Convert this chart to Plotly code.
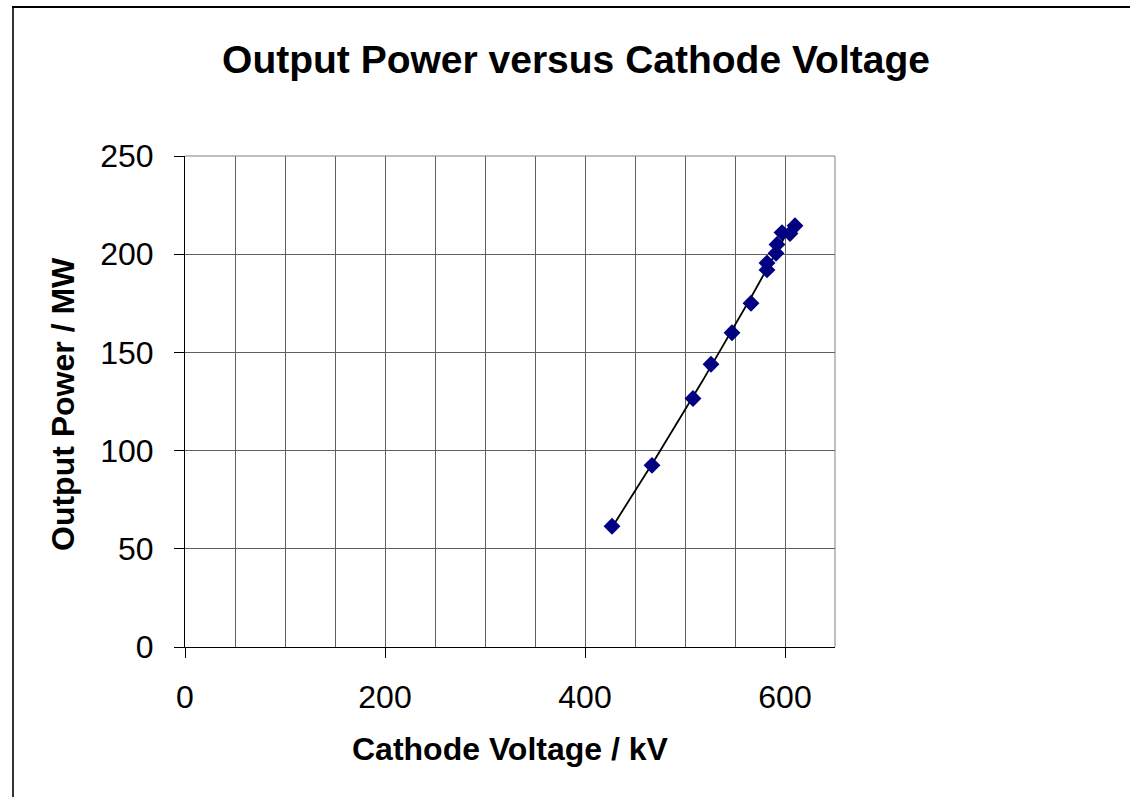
import numpy as np
import plotly.graph_objects as go

voltage_kv = [427, 467, 508, 526, 547, 566, 582, 582, 591, 592, 597, 605, 610]
power_mw = [61.5, 92.5, 126.5, 144, 160, 175, 192, 195.5, 200.5, 205, 211, 210.5, 214.5]

x_ticks = [0, 200, 400, 600]
y_ticks = [0, 50, 100, 150, 200, 250]

# polynomial trendline through the measured points
coef = np.polyfit(voltage_kv, power_mw, 2)
xt = np.linspace(min(voltage_kv), max(voltage_kv), 100)
yt = np.polyval(coef, xt)

fig = go.Figure()
fig.add_trace(go.Scatter(x=xt, y=yt, mode="lines",
                         line=dict(color="black", width=1.8), hoverinfo="skip"))
fig.add_trace(go.Scatter(x=voltage_kv, y=power_mw, mode="markers",
                         marker=dict(symbol="diamond", size=13, color="#000080",
                                     line=dict(width=0))))

font_family = "Liberation Sans, Arial, sans-serif"
L, R, T, B = 185, 295, 156, 150
PW, PH = 1130 - L - R, 797 - T - B

def px(x):
    return (x - L) / PW

def py(y):
    return (797 - B - y) / PH

fig.update_layout(
    width=1130, height=797,
    margin=dict(l=L, r=R, t=T, b=B),
    paper_bgcolor="white", plot_bgcolor="white",
    showlegend=False,
    font=dict(family=font_family, color="black", size=32),
    title=dict(text="<b>Output Power versus Cathode Voltage</b>",
               x=576/1130, xanchor="center", y=1-59/797, yanchor="middle",
               font=dict(size=39, family=font_family, color="black")),
    xaxis=dict(range=[0, 650], tickvals=x_ticks,
               showgrid=True, gridcolor="#606060", gridwidth=1,
               minor=dict(tick0=0, dtick=50, showgrid=True, gridcolor="#606060", gridwidth=1),
               showline=True, linecolor="black", linewidth=1,
               ticks="outside", ticklen=10, tickcolor="black",
               ticklabelstandoff=12,
               tickfont=dict(size=32),
               zeroline=False),
    yaxis=dict(range=[0, 250], tickvals=y_ticks,
               showgrid=True, gridcolor="#606060", gridwidth=1,
               showline=True, linecolor="black", linewidth=1,
               ticks="outside", ticklen=10, tickcolor="black",
               ticklabelstandoff=14,
               tickfont=dict(size=32),
               zeroline=False),
    annotations=[
        dict(text="<b>Cathode Voltage / kV</b>", xref="paper", yref="paper",
             x=px(511), y=py(749), xanchor="center", yanchor="middle",
             showarrow=False, font=dict(size=32, family=font_family, color="black")),
        dict(text="<b>Output Power / MW</b>", xref="paper", yref="paper",
             x=px(63), y=py(404), xanchor="center", yanchor="middle", textangle=-90,
             showarrow=False, font=dict(size=32, family=font_family, color="black")),
    ],
)

# plot-area top and right border (gray)
fig.add_shape(type="line", xref="paper", yref="paper", x0=0, x1=1, y0=1, y1=1,
              line=dict(color="#808080", width=1))
fig.add_shape(type="line", xref="paper", yref="paper", x0=1, x1=1, y0=0, y1=1,
              line=dict(color="#808080", width=1))
# outer chart frame (left and top edges visible)
fig.add_shape(type="line", xref="paper", yref="paper",
              x0=px(13), x1=px(13), y0=py(7), y1=py(810),
              line=dict(color="#333333", width=2))
fig.add_shape(type="line", xref="paper", yref="paper",
              x0=px(12), x1=px(1140), y0=py(7), y1=py(7),
              line=dict(color="black", width=2))

fig.write_html("out.html", config={"displayModeBar": False},
               post_script="document.body.style.margin='0';")
